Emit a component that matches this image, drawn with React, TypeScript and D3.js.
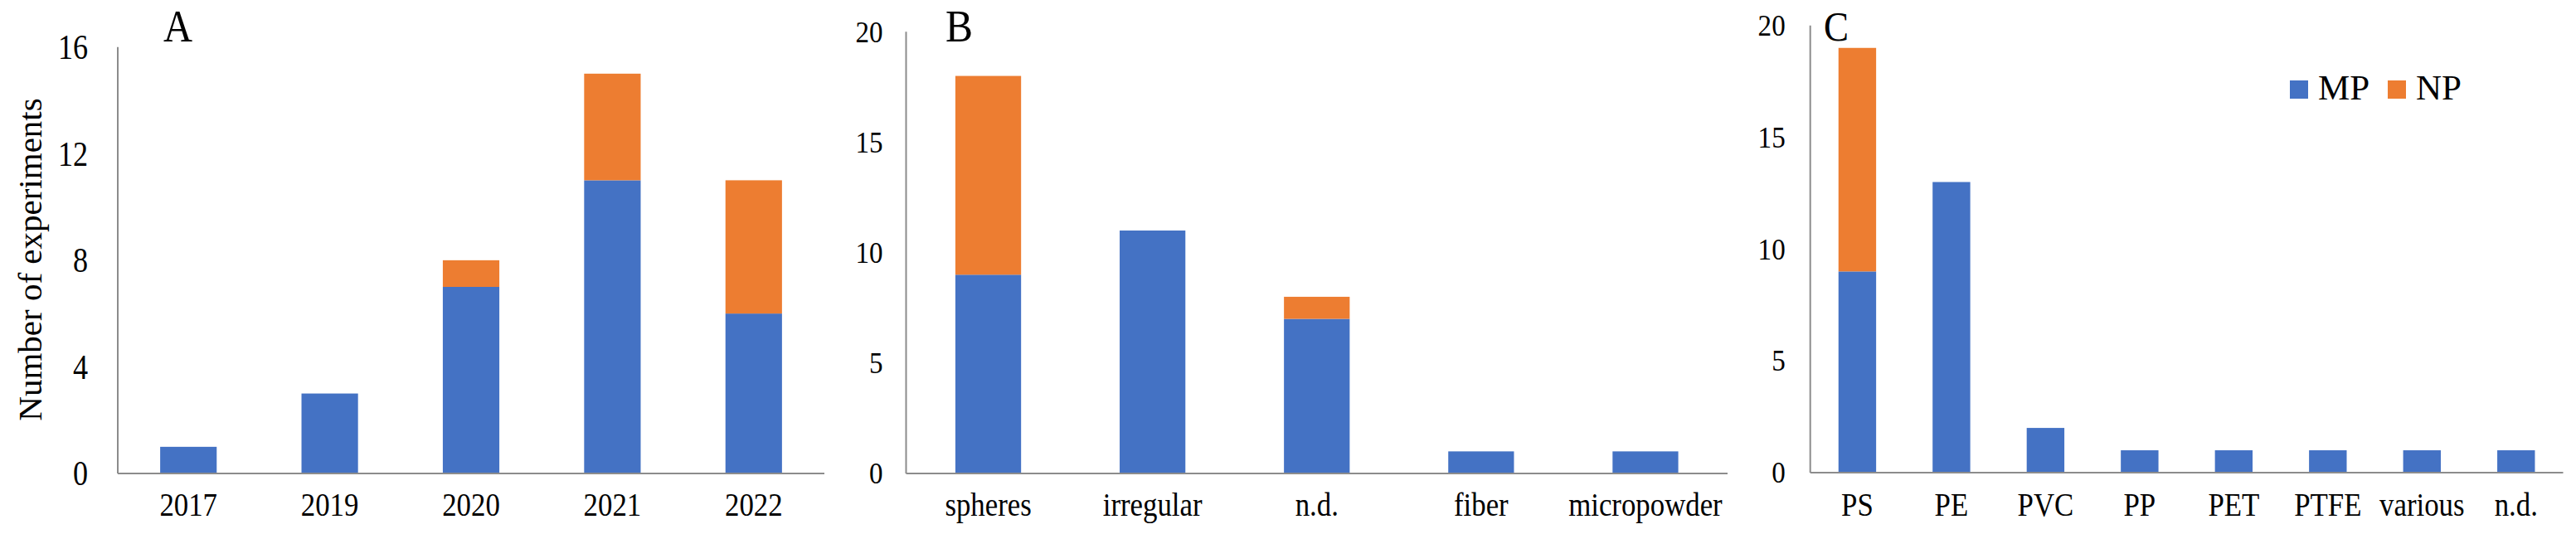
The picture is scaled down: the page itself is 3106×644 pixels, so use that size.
import React from "react";
import * as d3 from "d3";

const yearCats = ["2017", "2019", "2020", "2021", "2022"];
const yearMP = [1, 3, 7, 11, 6];
const yearNP = [0, 0, 1, 4, 5];
const yearTicks = [0, 4, 8, 12, 16];

const shapeCats = ["spheres", "irregular", "n.d.", "fiber", "micropowder"];
const shapeMP = [9, 11, 7, 1, 1];
const shapeNP = [9, 0, 1, 0, 0];
const shapeTicks = [0, 5, 10, 15, 20];

const polyCats = ["PS", "PE", "PVC", "PP", "PET", "PTFE", "various", "n.d."];
const polyMP = [9, 13, 2, 1, 1, 1, 1, 1];
const polyNP = [10, 0, 0, 0, 0, 0, 0, 0];
const polyTicks = [0, 5, 10, 15, 20];

const seriesNames = ["MP", "NP"];
const COLORS = ["#4472C4", "#ED7D31"];
const AXIS = "#8c8c8c";
const FONT = "'Liberation Serif', 'Times New Roman', serif";

type TProps = { x: number; y: number; size: number; sx?: number; anchor?: string; children: any; rotate?: number };
function T({ x, y, size, sx = 1, anchor = "start", children, rotate = 0 }: TProps) {
  return (
    <text
      transform={`translate(${x},${y}) rotate(${rotate}) scale(${sx},1)`}
      fontSize={size}
      fontFamily={FONT}
      textAnchor={anchor}
      fill="#000"
    >
      {children}
    </text>
  );
}

type PanelProps = {
  cats: string[];
  mp: number[];
  np: number[];
  ticks: number[];
  x0: number;
  x1: number;
  yBase: number;
  yTop: number;
  letter: string;
  letterX: number;
  letterY: number;
  letterSize: number;
  tickGap: number;
  yTickSize: number;
  yTickSx: number;
};

function Panel(p: PanelProps) {
  const max = p.ticks[p.ticks.length - 1];
  const x = d3.scaleBand<string>().domain(p.cats).range([p.x0, p.x1]).paddingInner(0.6).paddingOuter(0.3);
  const y = d3.scaleLinear().domain([0, max]).range([p.yBase, p.yTop]);
  const stackData = p.cats.map((c, i) => ({ cat: c, MP: p.mp[i], NP: p.np[i] }));
  const stacked = d3.stack<any>().keys(seriesNames)(stackData);
  return (
    <g>
      {stacked.map((layer, li) =>
        layer.map((d, i) =>
          d[1] - d[0] > 0 ? (
            <rect
              key={`${li}-${i}`}
              x={x(p.cats[i])}
              width={x.bandwidth()}
              y={y(d[1])}
              height={y(d[0]) - y(d[1])}
              fill={COLORS[li]}
            />
          ) : null
        )
      )}
      <line x1={p.x0} x2={p.x0} y1={y(max)} y2={p.yBase} stroke={AXIS} strokeWidth={2} />
      <line x1={p.x0} x2={p.x1} y1={p.yBase} y2={p.yBase} stroke={AXIS} strokeWidth={2} />
      {p.ticks.map((t) => (
        <T key={t} x={p.x0 - p.tickGap} y={y(t) + p.yTickSize * 0.34} size={p.yTickSize} sx={p.yTickSx} anchor="end">
          {t}
        </T>
      ))}
      {p.cats.map((c) => (
        <T key={c} x={(x(c) as number) + x.bandwidth() / 2} y={622} size={40} sx={0.87} anchor="middle">
          {c}
        </T>
      ))}
      <T x={p.letterX} y={p.letterY} size={p.letterSize} sx={0.9}>
        {p.letter}
      </T>
    </g>
  );
}

export default function App() {
  return (
    <svg
      width={3106}
      height={644}
      style={{ position: "absolute", left: 0, top: 0, background: "#fff" }}
    >
      <rect x={0} y={0} width={3106} height={644} fill="#fff" />
      <Panel
        cats={yearCats}
        mp={yearMP}
        np={yearNP}
        ticks={yearTicks}
        x0={142}
        x1={994}
        yBase={571}
        yTop={56.7}
        letter="A"
        letterX={197}
        letterY={50}
        letterSize={54}
        tickGap={36}
        yTickSize={42}
        yTickSx={0.86}
      />
      <Panel
        cats={shapeCats}
        mp={shapeMP}
        np={shapeNP}
        ticks={shapeTicks}
        x0={1092.5}
        x1={2083}
        yBase={571}
        yTop={38.3}
        letter="B"
        letterX={1140}
        letterY={50}
        letterSize={55}
        tickGap={28}
        yTickSize={36}
        yTickSx={0.92}
      />
      <Panel
        cats={polyCats}
        mp={polyMP}
        np={polyNP}
        ticks={polyTicks}
        x0={2182.7}
        x1={3090.5}
        yBase={570}
        yTop={30.8}
        letter="C"
        letterX={2199}
        letterY={49}
        letterSize={50}
        tickGap={30}
        yTickSize={36}
        yTickSx={0.92}
      />
      <T x={50} y={313} size={41} rotate={-90} anchor="middle">
        Number of experiments
      </T>
      {seriesNames.map((s, i) => {
        const lx = [2761, 2879][i];
        return (
          <g key={s}>
            <rect x={lx} y={97} width={22} height={22} fill={COLORS[i]} />
            <T x={lx + 34} y={120} size={43}>
              {s}
            </T>
          </g>
        );
      })}
    </svg>
  );
}
